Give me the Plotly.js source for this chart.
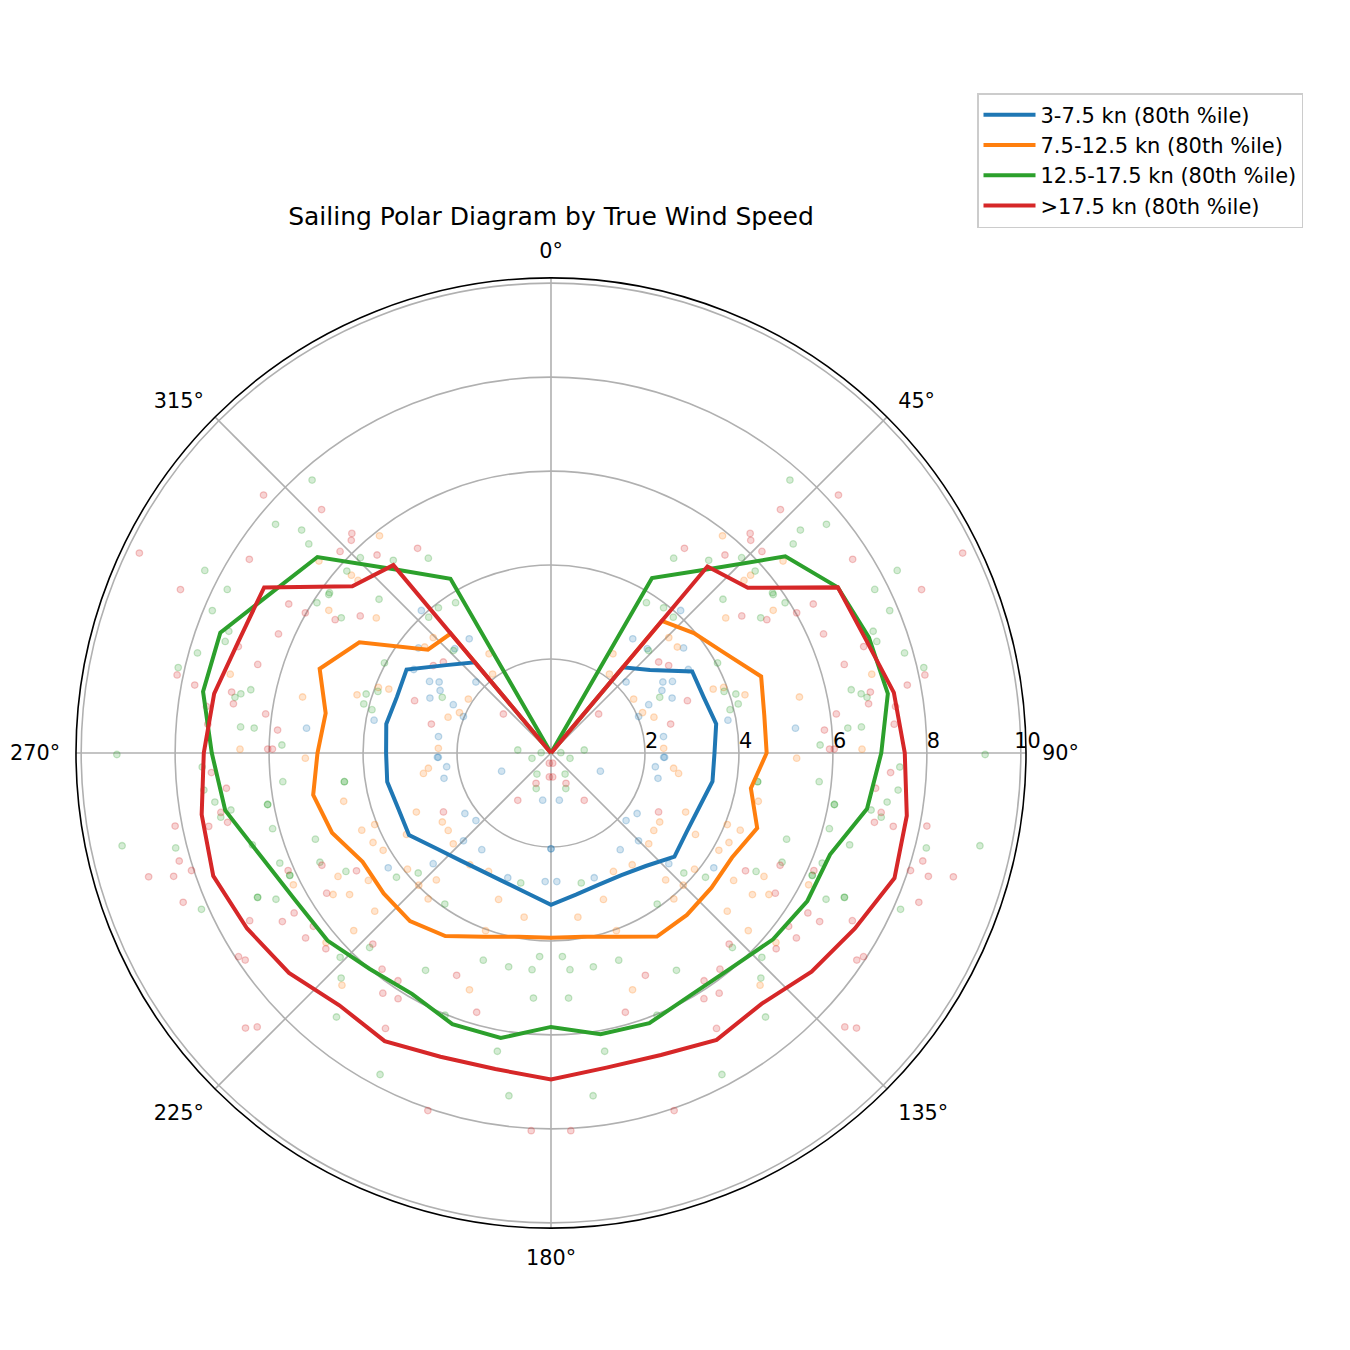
<!DOCTYPE html>
<html>
<head>
<meta charset="utf-8">
<script src="https://cdn.plot.ly/plotly-3.0.1.min.js"></script>
<style>html,body{margin:0;padding:0;background:#fff;}#chart{width:1350px;height:1350px;}</style>
</head>
<body>
<div id="chart"></div>
<script>
// Bin angles (true wind angle, degrees)
const angles = [0,10,20,30,40,50,60,70,80,90,100,110,120,130,140,150,160,170,180,190,200,210,220,230,240,250,260,270,280,290,300,310,320,330,340,350];

// 80th percentile boat speed per bin
const blueR   = [0,0,0,0,2.38,2.75,3.47,3.46,3.57,3.48,3.49,3.36,3.34,3.43,3.14,3.0,2.98,3.06,3.23,3.02,2.92,2.91,2.99,3.17,3.49,3.46,3.54,3.51,3.56,3.49,3.55,2.91,2.52,0,0,0];
const orangeR = [0,0,0,0,3.67,3.97,4.26,4.76,4.61,4.59,4.32,4.67,4.45,4.46,4.5,4.51,4.16,3.97,3.93,3.97,4.16,4.5,4.67,4.65,4.63,4.96,5.14,4.97,4.87,5.24,4.71,3.42,3.32,0,0,0];
const greenR  = [0,0,0,4.3,5.09,6.51,7.05,7.2,7.28,7.03,6.83,6.32,6.30,6.17,5.97,5.95,6.12,6.08,5.83,6.16,6.14,5.92,6.0,6.21,6.28,6.54,7.04,7.22,7.52,7.49,6.85,6.49,5.09,4.28,0,0];
const redR    = [0,0,0,0,5.18,5.47,7.05,7.12,7.41,7.53,7.69,7.78,7.47,7.24,6.97,7.05,6.84,6.8,6.95,6.83,6.88,7.08,7.01,7.28,7.47,7.65,7.55,7.39,7.28,7.06,7.05,5.52,5.22,0,0,0];

const seriesNames = ["3-7.5 kn (80th %ile)","7.5-12.5 kn (80th %ile)","12.5-17.5 kn (80th %ile)",">17.5 kn (80th %ile)"];

// Radial tick values and labels
const radialTicks = [2,4,6,8,10];
const radialTickText = ["2","4","6","8","10"];

// Raw observations, starboard half (0-180 deg); the plot shows them mirrored to port too
const blueObsT = [35.6,42.7,51.6,42.3,57.6,59.5,60.6,65.6,63.7,67.4,81.7,92.2,92.2,97.5,103.3,110.2,46.6,125.1,132,144.4,135.1,133.2,160.9,177.4,170,180,79.5,84.2,125.2,58.7];
const blueObsR = [2.99,3.02,3.60,4.10,2.82,3.0,2.71,2.83,2.32,2.02,2.42,2.42,2.40,2.24,2.34,1.12,2.20,2.24,2.15,2.53,2.64,3.44,2.81,2.74,1.02,2.04,3.83,5.23,4.24,3.42];

const orangeObsT = [38.3,50.4,48.2,48.3,52.3,57.3,73.3,77.3,68.5,69.2,76.2,89.3,91.2,103.1,112.2,112.1,116.7,120.1,120.1,124.9,125.1,123,131.9,117.1,36.5,56.9,66.2,70.8,32,50,45.6,97.1,99.1,87.6,113.7,122.4,127,132.9,144,152.2,137.9,135,139.9,119.4,129,160.3,170.7,159.8,161,132,130.1,138];
const orangeObsR = [5.89,6.41,5.51,5.69,4.70,5.62,4.31,5.42,3.71,3.93,7.03,6.62,5.23,4.53,4.35,4.05,4.24,4.13,5.24,4.74,5.24,5.53,5.04,6.16,2.09,2.10,2.13,2.32,2.49,3.51,3.51,2.63,2.75,2.40,3.13,2.74,2.74,2.84,2.94,2.85,3.64,3.98,4.06,3.53,3.93,3.31,3.54,4.03,5.33,5.65,6.26,6.65];

const greenObsT = [41.2,48.2,50.3,49.2,44.3,48.3,62.2,63.2,54.1,32.2,39.3,48.2,54.5,57.3,57.2,69.3,71.1,67.2,74.2,77.1,78.1,79.2,80.0,61.6,70.4,72.3,75.3,76.4,85.2,85.2,88.3,90.2,92.3,96.1,97.9,97.9,96.1,98.3,100.3,100.3,100.1,101,105.2,110.1,107.1,104.2,102.2,115.3,120,112.1,115.1,115.1,116.2,116.2,118,114.1,84.8,105.6,146.3,157.4,166.9,62.9,32.4,37.8,42,43.6,132.1,144.9,128.8,176.8,175,168.8,161.9,150,175.9,169.8,173,158,137,134.1,137,140.9,152,88];
const greenObsR = [7.72,7.12,7.62,6.81,5.81,5.82,8.33,7.72,5.82,4.90,5.30,4.91,5.81,5.92,5.31,7.33,7.33,7.82,7.82,8.14,6.53,6.72,6.83,4.03,3.91,4.13,4.12,3.92,6.34,6.63,5.73,9.24,7.43,7.43,4.44,4.44,5.74,7.23,6.13,6.13,6.92,7.16,6.14,5.34,6.65,8.24,9.34,5.44,5.04,6.23,6.14,6.14,6.96,6.96,6.63,8.15,0.71,0.42,0.54,0.82,2.84,2.60,3.79,3.91,3.89,3.01,3.81,3.93,4.22,4.34,4.63,4.64,4.64,5.34,5.23,6.45,7.35,6.02,5.66,6.25,6.55,7.24,7.75,0.21];

const redObsT = [48.1,43.3,42.2,43.2,46.3,41.3,57.3,64.1,66.2,33.1,54.3,58.3,60.3,60.4,66.4,71.2,73.2,78.2,79.2,79.2,81.2,82.3,82.2,85.2,85.2,89.2,89.2,93.3,96.2,100.2,102.1,102.1,101,106.2,108.1,108.1,107.1,116.1,121.2,114.1,122,112.1,121.9,122.1,119.1,126.1,127,137,131,142,145,124.1,123.1,133,132,149,157,164,161,177,146.1,148.1,49.8,69,76.4,50.7,144.9,153.7,176,170.6,118.7,53.4];
const redObsR = [8.22,7.12,6.31,6.21,6.21,5.61,7.63,9.74,8.62,5.20,5.00,5.40,6.02,6.42,6.33,7.03,6.52,8.13,7.72,6.92,6.84,7.40,6.13,7.33,5.84,5.93,6.03,7.24,6.95,7.14,7.04,7.45,8.15,8.24,8.05,8.45,8.96,5.43,4.84,6.13,5.63,8.45,6.44,6.75,7.34,6.26,6.54,5.56,6.35,5.84,6.24,7.86,7.94,8.55,8.75,6.84,5.14,5.74,8.05,8.05,5.84,6.16,3.0,3.11,2.62,1.31,1.23,0.72,0.51,0.22,2.61,3.12];

const lineColors = ["#1f77b4","#ff7f0e","#2ca02c","#d62728"];
const fillRGBA = ["rgba(31,119,180,0.20)","rgba(255,127,14,0.20)","rgba(44,160,44,0.20)","rgba(214,39,40,0.20)"];
const edgeRGBA = ["rgba(31,119,180,0.25)","rgba(255,127,14,0.25)","rgba(44,160,44,0.25)","rgba(214,39,40,0.25)"];

const obsT = [blueObsT, orangeObsT, greenObsT, redObsT];
const obsR = [blueObsR, orangeObsR, greenObsR, redObsR];
const lineR = [blueR, orangeR, greenR, redR];

const traces = [];
for (let i = 0; i < 4; i++) {
  const t = obsT[i].concat(obsT[i].map(a => (360 - a) % 360));
  const r = obsR[i].concat(obsR[i]);
  traces.push({
    type: "scatterpolar", mode: "markers", theta: t, r: r, showlegend: false, hoverinfo: "skip",
    marker: {size: 6.5, color: fillRGBA[i], line: {color: edgeRGBA[i], width: 1.3}}
  });
}
for (let i = 0; i < 4; i++) {
  traces.push({
    type: "scatterpolar", mode: "lines", name: seriesNames[i],
    theta: angles.concat([360]), r: lineR[i].concat([lineR[i][0]]),
    line: {color: lineColors[i], width: 4}
  });
}

const layout = {
  width: 1350, height: 1350,
  margin: {l: 0, r: 0, t: 0, b: 0},
  paper_bgcolor: "#fff",
  font: {family: "DejaVu Sans, sans-serif", size: 21, color: "#000"},
  title: {text: "Sailing Polar Diagram by True Wind Speed", font: {size: 25, family: "DejaVu Sans, sans-serif", color: "#000"},
          x: 551/1350, xanchor: "center", y: 1 - 216/1350, yanchor: "middle"},
  showlegend: true,
  legend: {x: 977/1350, y: 1 - 93/1350, xanchor: "left", yanchor: "top",
           bgcolor: "rgba(255,255,255,0.8)", bordercolor: "#cccccc", borderwidth: 1.5,
           itemwidth: 52,
           font: {size: 21, family: "DejaVu Sans, sans-serif"}},
  polar: {
    domain: {x: [76/1350, 1026/1350], y: [122/1350, 1072/1350]},
    bgcolor: "#fff",
    angularaxis: {
      rotation: 90, direction: "clockwise", tickmode: "linear", tick0: 0, dtick: 45,
      ticksuffix: "°", showgrid: true, gridcolor: "#b0b0b0", gridwidth: 1.6,
      showline: true, linecolor: "#000", linewidth: 1.6,
      ticks: "outside", ticklen: 11, tickcolor: "rgba(0,0,0,0)",
      tickfont: {size: 20.8, family: "DejaVu Sans, sans-serif", color: "#000"}
    },
    radialaxis: {
      range: [0, 10.11], tickmode: "array", tickvals: radialTicks,
      ticktext: radialTickText.map(s => "\u00a0\u00a0" + s),
      angle: 0, side: "counterclockwise", showline: false, ticks: "",
      showgrid: true, gridcolor: "#b0b0b0", gridwidth: 1.6,
      tickfont: {size: 20.8, family: "DejaVu Sans, sans-serif", color: "#000"}
    }
  }
};

Plotly.newPlot("chart", traces, layout, {displayModeBar: false, staticPlot: true});
</script>
</body>
</html>
